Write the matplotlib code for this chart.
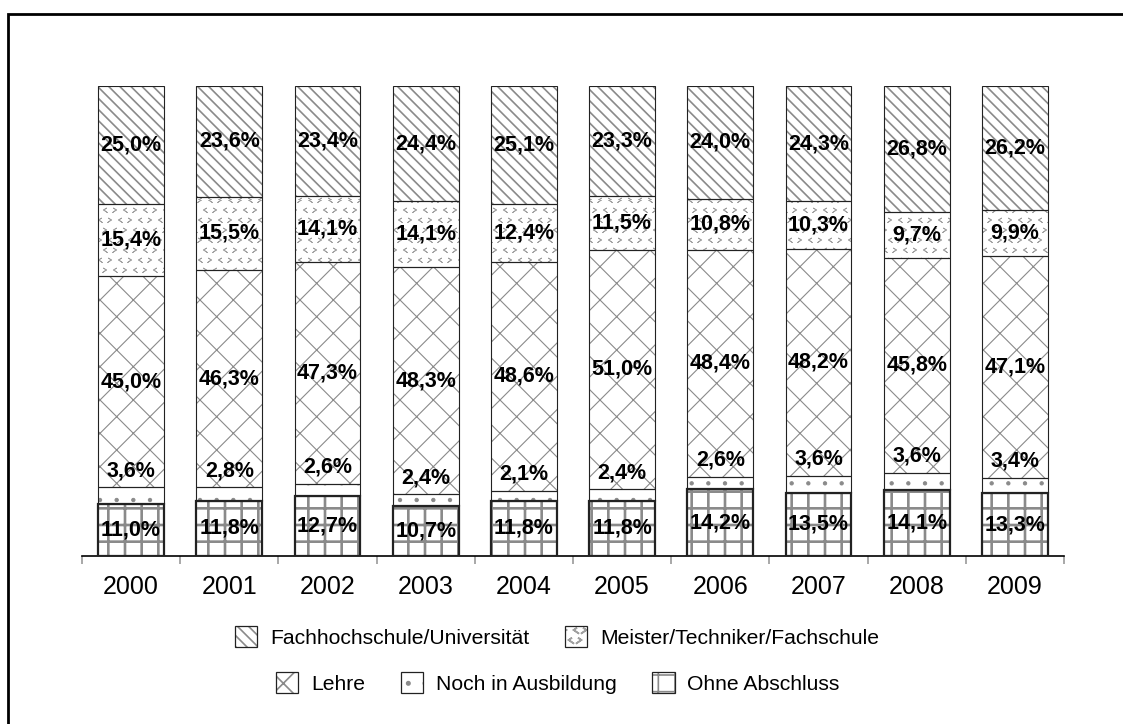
import numpy as np
import matplotlib
matplotlib.use("Agg")
import matplotlib.pyplot as plt
import matplotlib.hatch as mhatch
from matplotlib.path import Path
from matplotlib.patches import Patch, Rectangle
from matplotlib.legend_handler import HandlerTuple

# ---------------- data ----------------
years = ["2000", "2001", "2002", "2003", "2004", "2005", "2006", "2007", "2008", "2009"]
ohne = [11.0, 11.8, 12.7, 10.7, 11.8, 11.8, 14.2, 13.5, 14.1, 13.3]
noch = [3.6, 2.8, 2.6, 2.4, 2.1, 2.4, 2.6, 3.6, 3.6, 3.4]
lehre = [45.0, 46.3, 47.3, 48.3, 48.6, 51.0, 48.4, 48.2, 45.8, 47.1]
meister = [15.4, 15.5, 14.1, 14.1, 12.4, 11.5, 10.8, 10.3, 9.7, 9.9]
fh = [25.0, 23.6, 23.4, 24.4, 25.1, 23.3, 24.0, 24.3, 26.8, 26.2]
series_names = ["Ohne Abschluss", "Noch in Ausbildung", "Lehre",
                "Meister/Techniker/Fachschule", "Fachhochschule/Universität"]


# ---------------- custom "< >" hatch, bound to the '*' symbol ----------------
class Chevrons(mhatch.HatchPatternBase):
    N = 10          # marks per inch in each direction (must be even)
    W = 0.013       # half width of a mark
    Hh = 0.018      # half height of a mark

    def __init__(self, hatch, density):
        self.on = hatch.count('*') > 0
        self.num_vertices = (self.N + 1) * (self.N + 1) * 5 if self.on else 0

    def set_vertices_and_codes(self, vertices, codes):
        n = self.N
        k = 0
        for r in range(n + 1):
            for c in range(n + 1):
                cx = c / n + (0.5 / n if r % 2 else 0.0)
                cy = r / n
                s = 1 if (r // 2 + c) % 2 == 0 else -1  # '<' or '>'
                a = (cx + s * self.W, cy + self.Hh)
                b = (cx - s * self.W, cy)
                d = (cx + s * self.W, cy - self.Hh)
                # go forward and retrace, so the mark has no area to fill
                for j, p in enumerate((a, b, d, b, a)):
                    vertices[k + j] = p
                    codes[k + j] = Path.MOVETO if j == 0 else Path.LINETO
                k += 5


for _i, _t in enumerate(mhatch._hatch_types):
    if _t is mhatch.Stars:
        mhatch._hatch_types[_i] = Chevrons

plt.rcParams['font.family'] = ['Liberation Sans', 'DejaVu Sans']

W, H = 1123, 724
fig = plt.figure(figsize=(W / 100, H / 100), dpi=100)
ax = fig.add_axes([82 / W, (H - 556) / H, (1064 - 82) / W, (556 - 86) / H])

x = np.arange(len(years))
bw = 0.672

styles = [
    # hatch, hatch colour, hatch linewidth, outline lw, outline colour
    ('+', '#8a8a8a', 1.9, 1.6, '#222222'),
    ('.', '#8a8a8a', 0.7, 0.8, '#222222'),
    ('x', '#8a8a8a', 0.8, 0.8, '#222222'),
    ('*', '#a0a0a0', 0.6, 0.8, '#222222'),
    ('\\\\\\', '#8a8a8a', 1.2, 0.8, '#222222'),
]
data = [ohne, noch, lehre, meister, fh]

bottom = np.zeros(len(years))
handles = []
for vals, (hatch, hc, hlw, olw, oc), name in zip(data, styles, series_names):
    vals = np.array(vals)
    plt.rcParams['hatch.linewidth'] = hlw
    bars_h = ax.bar(x, vals, bw, bottom=bottom, facecolor='white',
                    edgecolor=hc, linewidth=0, hatch=hatch, zorder=2)
    for b in bars_h:
        if hasattr(b, 'set_hatch_linewidth'):
            b.set_hatch_linewidth(hlw)
    ax.bar(x, vals, bw, bottom=bottom, fill=False, edgecolor=oc,
           linewidth=olw, zorder=3)
    ph = Patch(facecolor='white', edgecolor=hc, linewidth=0, hatch=hatch)
    if hasattr(ph, 'set_hatch_linewidth'):
        ph.set_hatch_linewidth(hlw)
    po = Patch(fill=False, edgecolor=oc, linewidth=0.9)
    handles.append((ph, po))
    # labels
    for i, v in enumerate(vals):
        txt = f"{v:.1f}%".replace('.', ',')
        if name == "Noch in Ausbildung":
            ax.annotate(txt, xy=(x[i], bottom[i] + v), xytext=(0, 12),
                        textcoords='offset points', ha='center', va='center',
                        fontsize=15.5, fontweight='bold', zorder=5)
        else:
            ax.text(x[i], bottom[i] + v / 2, txt, ha='center', va='center',
                    fontsize=15.5, fontweight='bold', zorder=5)
    bottom = bottom + vals

ax.set_xlim(-0.5, len(years) - 0.5)
ax.set_ylim(0, 100)
for s in ['left', 'top', 'right']:
    ax.spines[s].set_visible(False)
ax.spines['bottom'].set_linewidth(1.2)
ax.spines['bottom'].set_color('black')
ax.set_yticks([])
ax.set_xticks(x)
ax.set_xticklabels(years, fontsize=18)
ax.tick_params(axis='x', which='major', length=0, pad=13.5)
ax.set_xticks(np.arange(-0.5, len(years), 1.0), minor=True)
ax.tick_params(axis='x', which='minor', length=5.5, width=1.2, color='#999999',
               direction='out')

# legends
leg_kw = dict(frameon=False, fontsize=15.2, handlelength=1.05, handleheight=1.15,
              handletextpad=0.6, columnspacing=1.7, borderaxespad=0,
              handler_map={tuple: HandlerTuple(ndivide=1)})
leg1 = fig.legend([handles[4], handles[3]], [series_names[4], series_names[3]],
                  ncol=2, loc='center', bbox_to_anchor=(557 / W, (H - 637) / H), **leg_kw)
leg2 = fig.legend([handles[2], handles[1], handles[0]],
                  [series_names[2], series_names[1], series_names[0]],
                  ncol=3, loc='center', bbox_to_anchor=(558 / W, (H - 683) / H), **leg_kw)

# outer frame (only top and left visible in the reference)
fig.add_artist(Rectangle((8 / W, -0.1), 1.2, 0.1 + (H - 14) / H,
                         transform=fig.transFigure, fill=False,
                         linewidth=2.0, edgecolor='black'))

fig.savefig('out.png', dpi=100)
